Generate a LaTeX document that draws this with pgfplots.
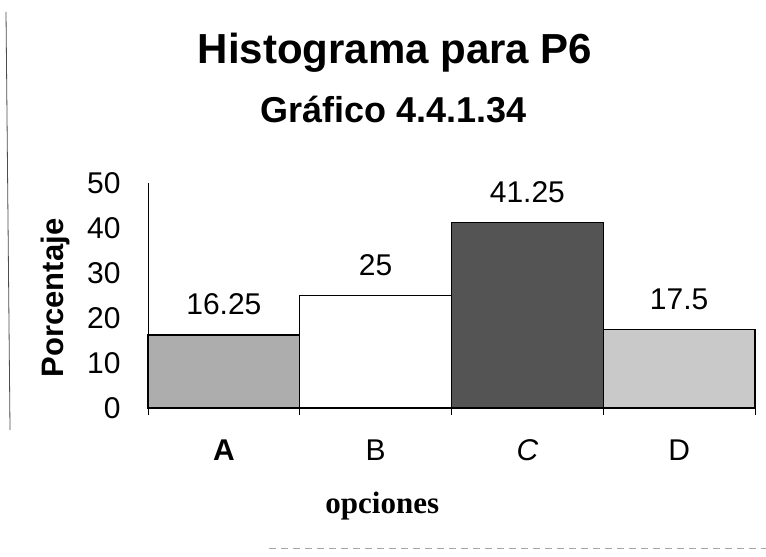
\documentclass[border=0pt]{standalone}
\usepackage{fontspec}
\setmainfont{Liberation Sans}
\newfontfamily\timesfont{Liberation Serif}
\usepackage{pgfplots}
\pgfplotsset{compat=1.18}

\definecolor{barA}{gray}{0.68}
\definecolor{barC}{gray}{0.33}
\definecolor{barD}{gray}{0.79}

\begin{document}
\begin{tikzpicture}
\begin{axis}[
    scale only axis, width=607pt, height=225pt,
    xmin=-0.5, xmax=3.5, ymin=0, ymax=50,
    axis x line*=bottom, axis y line*=left,
    x axis line style={-, line width=1.4pt},
    y axis line style={-, line width=0.6pt},
    ybar, bar width=1, bar shift=0pt,
    xtick={0,1,2,3},
    xticklabels={\bfseries A, B, \itshape C, D},
    minor xtick={-0.5,0.5,1.5,2.5,3.5},
    ytick={0,10,20,30,40,50},
    major tick length=0pt,
    minor tick length=7pt,
    tick align=outside,
    tick style={black, line width=0.8pt},
    /pgf/number format/assume math mode=true,
    ticklabel style={font=\fontsize{30}{34}\selectfont},
    xticklabel style={anchor=base, yshift=-52pt},
    yticklabel style={xshift=-24pt},
    nodes near coords,
    every node near coord/.append style={font=\fontsize{30}{34}\selectfont, anchor=base, yshift=20pt},
    clip=false,
]
\addplot[fill=barA, draw=black, line width=1.5pt] coordinates {(0,16.25)};
\addplot[fill=white, draw=black, line width=1.5pt] coordinates {(1,25)};
\addplot[fill=barC, draw=black, line width=1.5pt] coordinates {(2,41.25)};
\addplot[fill=barD, draw=black, line width=1.5pt] coordinates {(3,17.5)};

% titles and labels
\node[font=\fontsize{42}{48}\selectfont\bfseries, anchor=base] at (axis description cs:0.407,1.529) {Histograma para P6};
\node[font=\fontsize{36}{42}\selectfont\bfseries, anchor=base] at (axis description cs:0.405,1.271) {Gráfico 4.4.1.34};
\node[font=\fontsize{31}{36}\selectfont\bfseries, rotate=90, anchor=center] at (axis description cs:-0.153,0.489) {Porcentaje};
\node[font=\fontsize{31}{36}\selectfont\timesfont\bfseries, anchor=base] at (axis description cs:0.386,-0.467) {opciones};

% scan frame remnants
\draw[black!70, line width=0.8pt] (axis description cs:-0.2339,1.76) -- (axis description cs:-0.2273,-0.098);
\draw[black!35, line width=0.6pt, dash pattern=on 7pt off 5pt] (axis description cs:0.2,-0.622) -- (axis description cs:1.018,-0.622);

\coordinate (bl) at (axis description cs:-0.2438,-0.6578);
\coordinate (tr) at (axis description cs:1.0181,1.8133);
\end{axis}
\pgfresetboundingbox
\path (bl) rectangle (tr);
\end{tikzpicture}
\end{document}
